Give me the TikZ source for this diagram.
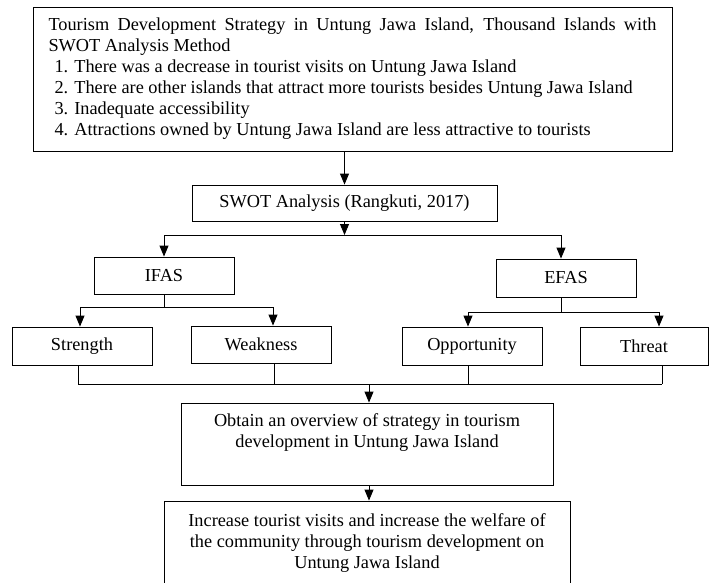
\documentclass[tikz,border=0pt]{standalone}
\usepackage{fontspec}
\setmainfont{Liberation Serif}
\usetikzlibrary{arrows.meta}
\tikzset{
  x=1pt,y=1pt,
  box/.style={draw=black, line width=0.9pt, inner sep=0pt, align=center,
    font=\fontsize{18.3pt}{21pt}\selectfont},
  conn/.style={draw=black, line width=0.9pt},
  arr/.style={conn, -{Triangle[width=9pt,length=11pt]}}
}
\begin{document}
\begin{tikzpicture}
\useasboundingbox (0,0) rectangle (709,-582);
\clip (0,0) rectangle (709,-582);
% nodes
\node[box, text width=608pt, align=justify, minimum height=144pt, inner xsep=15.5pt] (top) at (352.5,-79)
 {Tourism Development Strategy in Untung Jawa Island, Thousand Islands with\linebreak
  SWOT Analysis Method\par
  \hspace*{6pt}1. There was a decrease in tourist visits on Untung Jawa Island\par
  \hspace*{6pt}2. There are other islands that attract more tourists besides Untung Jawa Island\par
  \hspace*{6pt}3. Inadequate accessibility\par
  \hspace*{6pt}4. Attractions owned by Untung Jawa Island are less attractive to tourists};
\node[box, minimum width=305pt, minimum height=36pt] (swot) at (344.5,-203) {SWOT Analysis (Rangkuti, 2017)};
\node[box, minimum width=140pt, minimum height=37pt] (ifas) at (164,-275.5) {IFAS};
\node[box, minimum width=140pt, minimum height=38pt] (efas) at (566,-278) {EFAS};
\node[box, minimum width=140pt, minimum height=38pt] (str) at (82,-346) {Strength};
\node[box, minimum width=140pt, minimum height=37pt] (weak) at (261,-344.5) {Weakness};
\node[box, minimum width=140pt, minimum height=38pt] (opp) at (472,-346) {Opportunity};
\node[box, minimum width=128pt, minimum height=38pt] (thr) at (644,-346) {Threat};
\node[box, minimum width=372pt, minimum height=82pt] (obt) at (367,-444)
 {Obtain an overview of strategy in tourism\\ development in Untung Jawa Island\\ \strut};
\node[box, minimum width=406pt, minimum height=84pt] (inc) at (367,-543)
 {Increase tourist visits and increase the welfare of\\ the community through tourism development on\\ Untung Jawa Island};
% junction coordinates
\coordinate (j1) at (344.5,-235);
\coordinate (j1l) at (164,-235);
\coordinate (j1r) at (561,-235);
\coordinate (j2) at (164,-307);
\coordinate (j2l) at (80,-307);
\coordinate (j2r) at (273,-307);
\coordinate (j3) at (561,-312);
\coordinate (j3l) at (468,-312);
\coordinate (j3r) at (659,-312);
\coordinate (j4) at (369,-384);
\coordinate (j4a) at (78,-384);
\coordinate (j4b) at (274,-384);
\coordinate (j4c) at (468,-384);
\coordinate (j4d) at (662,-384);
% connectors
\draw[arr] (top.south -| swot.north) -- (swot.north);
\draw[arr] (swot.south) -- (j1);
\draw[conn] (j1l) -- (j1r);
\draw[arr] (j1l) -- (ifas.north);
\draw[arr] (j1r) -- (j1r |- efas.north);
\draw[conn] (ifas.south) -- (j2);
\draw[conn] (j2l) -- (j2r);
\draw[arr] (j2l) -- (j2l |- str.north);
\draw[arr] (j2r) -- (j2r |- weak.north);
\draw[conn] (j3 |- efas.south) -- (j3);
\draw[conn] (j3l) -- (j3r);
\draw[arr] (j3l) -- (j3l |- opp.north);
\draw[arr] (j3r) -- (j3r |- thr.north);
\draw[conn] (j4a |- str.south) -- (j4a);
\draw[conn] (j4b |- weak.south) -- (j4b);
\draw[conn] (j4c |- opp.south) -- (j4c);
\draw[conn] (j4d |- thr.south) -- (j4d);
\draw[conn] (j4a) -- (j4d);
\draw[arr] (j4) -- (j4 |- obt.north);
\draw[arr] (obt.south -| j4) -- (j4 |- inc.north);
\end{tikzpicture}
\end{document}
